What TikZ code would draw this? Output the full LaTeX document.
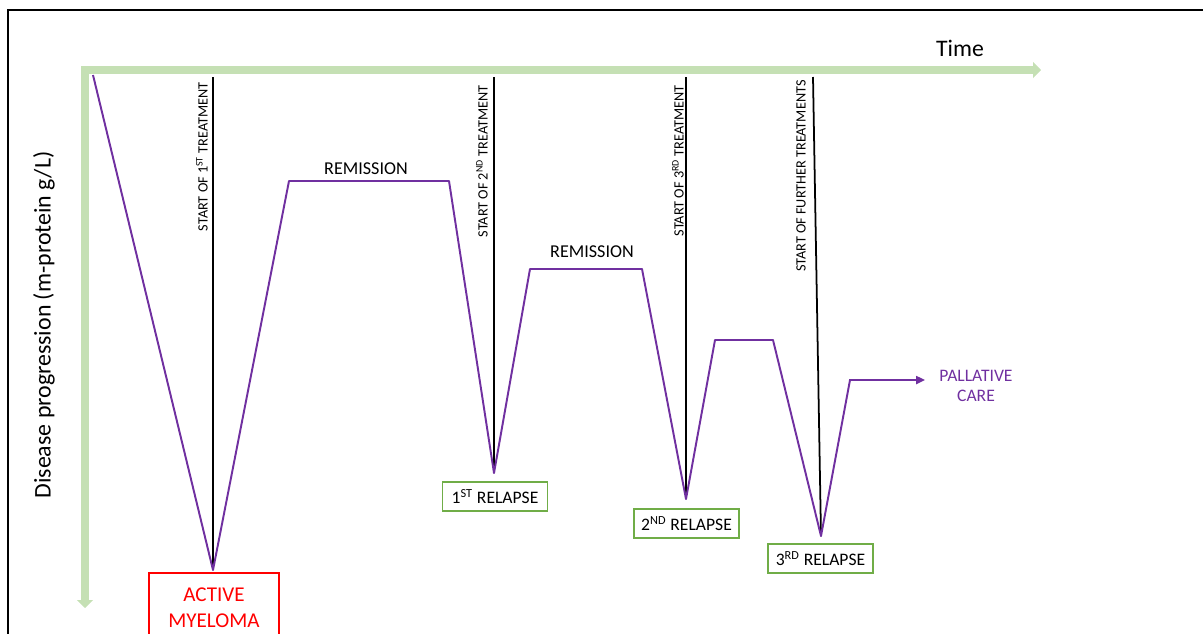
\documentclass[tikz,border=0pt]{standalone}
\usepackage{fontspec}
\setmainfont{Carlito}
\usepackage{xcolor}
\usetikzlibrary{arrows.meta,positioning}
\definecolor{axisgreen}{RGB}{197,224,180}
\definecolor{boxgreen}{RGB}{112,173,71}
\definecolor{mpurple}{RGB}{112,48,160}

\begin{document}
\begin{tikzpicture}[x=0.02cm,y=-0.02cm,
  axis/.style={draw=axisgreen,line width=4.2pt,-{Triangle[length=4.5pt,width=9pt]}},
  treat/.style={rotate=90,anchor=east,inner sep=0pt,font=\fontsize{8.1}{9}\selectfont},
  relapse/.style={draw=boxgreen,line width=1.1pt,inner sep=0pt,minimum width=2.1cm,
    minimum height=0.58cm,font=\fontsize{10}{11}\selectfont},
  mline/.style={draw=mpurple,line width=1.1pt,line join=round}]
  \useasboundingbox (0,0) rectangle (1203,633);
  % frame
  \draw[line width=1.7pt] (8,645) -- (8,10) -- (1215,10);
  % axes
  \coordinate (o) at (81,70);
  \draw[axis] (o) -- (1041,70);
  \draw[axis] (85,66) -- (85,608);
  \node (time) at (960,48) {\fontsize{13.5}{15}\selectfont Time};
  \node[rotate=90] (ylab) at (44,325) {\fontsize{13.6}{15}\selectfont Disease progression (m-protein g/L)};

  % boxes
  \node[draw=red,line width=1.1pt,text=red,anchor=north,minimum width=2.6cm,minimum height=1.4cm,
    align=center,font=\fontsize{12}{14.7}\selectfont] (active) at (214,572) {ACTIVE\\MYELOMA};
  \node[relapse] (r1) at (495,496.5) {1\textsuperscript{ST} RELAPSE};
  \node[relapse] (r2) at (686.5,523.5) {2\textsuperscript{ND} RELAPSE};
  \node[relapse] (r3) at (820.5,558.5) {3\textsuperscript{RD} RELAPSE};
  \node[text=mpurple,align=center,font=\fontsize{10}{11}\selectfont] (care) at (976,386) {PALLATIVE\\CARE};

  % treatment lines
  \coordinate (t1) at (213,77);
  \coordinate (t2) at (494,77);
  \coordinate (t3) at (686,77);
  \coordinate (t4) at (813,77);
  \draw[line width=1pt] (t1) -- (213,570);
  \draw[line width=1pt] (t2) -- (494,473);
  \draw[line width=1pt] (t3) -- (686,499);
  \draw[line width=1pt] (t4) -- (821,536);
  \node[treat] (s1) at (202,82) {START OF 1\textsuperscript{ST} TREATMENT};
  \node[treat] (s2) at (482,85) {START OF 2\textsuperscript{ND} TREATMENT};
  \node[treat] (s3) at (678,85) {START OF 3\textsuperscript{RD} TREATMENT};
  \node[treat] (s4) at (801,80) {START OF FURTHER TREATMENTS};

  \node[font=\fontsize{10.3}{11}\selectfont] (rem1) at (366,169) {REMISSION};
  \node[font=\fontsize{10.3}{11}\selectfont] (rem2) at (592,252) {REMISSION};

  % m-protein curve
  \coordinate (pc) at (925,380);
  \draw[mline] (93,75) -- (213,570) -- (289,181) -- (449,181) -- (494,473) -- (530,269)
    -- (642,269) -- (686,499) -- (715,340) -- (773,340) -- (821,536) -- (850,380) -- (870,380);
  \draw[mline,-{Triangle[length=5pt,width=4.5pt]}] (849,380) -- (pc);
\end{tikzpicture}
\end{document}
